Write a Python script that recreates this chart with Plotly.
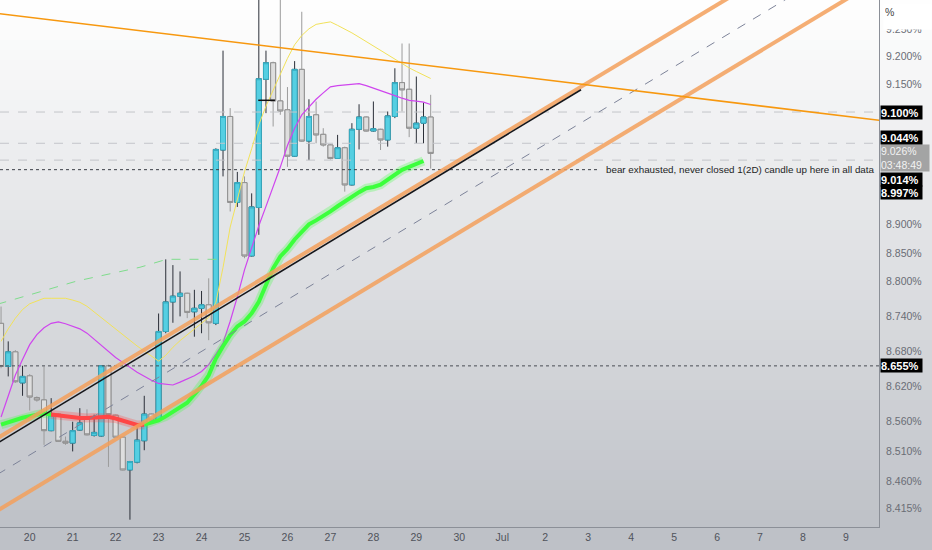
import math
import pandas as pd
import plotly.graph_objects as go

# ---------------- data ----------------
candle_start = "2023-06-19 08:00"   # 4h candles
opens  = [8.728, 8.654, 8.679, 8.626, 8.638, 8.601, 8.597, 8.545, 8.573, 8.527,
          8.524, 8.546, 8.564, 8.537, 8.536, 8.655, 8.571, 8.534, 8.479, 8.492,
          8.528, 8.573, 8.563, 8.714, 8.765, 8.775, 8.780, 8.748, 8.754, 8.760,
          8.728, 9.032, 9.092, 8.939, 8.974, 8.845, 8.930, 9.159, 9.189, 9.120,
          9.104, 9.021, 9.177, 9.048, 9.095, 9.060, 9.041, 9.017, 9.036, 8.970,
          9.069, 9.091, 9.066, 9.069, 9.050, 9.092, 9.153, 9.141, 9.071, 9.080,
          9.091]
highs  = [8.757, 8.697, 8.682, 8.655, 8.641, 8.603, 8.654, 8.600, 8.574, 8.535,
          8.560, 8.583, 8.581, 8.572, 8.656, 8.657, 8.572, 8.535, 8.494, 8.552,
          8.604, 8.574, 8.745, 8.839, 8.829, 8.818, 8.781, 8.786, 8.784, 8.806,
          9.035, 9.211, 9.107, 8.993, 8.985, 8.955, 9.320, 9.211, 9.191, 9.320,
          9.145, 9.192, 9.282, 9.123, 9.119, 9.071, 9.042, 9.059, 9.038, 9.080,
          9.114, 9.092, 9.119, 9.070, 9.101, 9.179, 9.224, 9.224, 9.164, 9.117,
          9.131]
lows   = [8.651, 8.637, 8.626, 8.604, 8.579, 8.594, 8.521, 8.544, 8.526, 8.521,
          8.510, 8.545, 8.537, 8.535, 8.535, 8.484, 8.533, 8.478, 8.396, 8.490,
          8.512, 8.562, 8.562, 8.711, 8.729, 8.740, 8.737, 8.705, 8.711, 8.699,
          8.725, 8.985, 8.923, 8.931, 8.841, 8.844, 8.882, 9.098, 9.074, 9.095,
          9.002, 9.020, 9.047, 9.014, 9.044, 9.038, 9.015, 9.016, 8.958, 8.969,
          9.033, 9.065, 9.065, 9.032, 9.038, 9.089, 9.101, 9.055, 9.044, 9.044,
          8.999]
closes = [8.654, 8.679, 8.628, 8.637, 8.602, 8.597, 8.545, 8.571, 8.527, 8.524,
          8.545, 8.558, 8.538, 8.542, 8.655, 8.572, 8.534, 8.479, 8.493, 8.529,
          8.573, 8.563, 8.714, 8.765, 8.775, 8.780, 8.747, 8.754, 8.760, 8.729,
          9.033, 9.092, 8.939, 8.974, 8.845, 8.931, 9.160, 9.189, 9.120, 9.102,
          9.021, 9.177, 9.048, 9.092, 9.059, 9.041, 9.017, 9.036, 8.970, 9.069,
          9.091, 9.066, 9.070, 9.050, 9.093, 9.153, 9.140, 9.071, 9.080, 9.091,
          9.026]

# glowing moving average (one value per candle, last candle excluded)
ma_glow = [8.5551, 8.5591, 8.5633, 8.5667, 8.5694, 8.5721, 8.5742, 8.5721, 8.5704, 8.5691,
           8.5677, 8.5665, 8.5662, 8.5670, 8.5677, 8.5684, 8.5655, 8.5618, 8.5581, 8.5546,
           8.5551, 8.5586, 8.5623, 8.5691, 8.5767, 8.5843, 8.5923, 8.6064, 8.6207, 8.6389,
           8.6675, 8.6887, 8.7075, 8.7228, 8.7312, 8.7452, 8.7653, 8.7944, 8.8234, 8.8442,
           8.8571, 8.8738, 8.8878, 8.9003, 8.9073, 8.9145, 8.9232, 8.9322, 8.9411, 8.9491,
           8.9571, 8.9641, 8.9663, 8.9705, 8.9796, 8.9891, 8.9966, 9.0018, 9.0078, 9.0124]
ma_red_from, ma_red_to = 7, 20      # falling stretch drawn in red

band_yellow = [8.6970, 8.7185, 8.7369, 8.7519, 8.7618, 8.7668, 8.7713, 8.7713, 8.7713, 8.7713,
               8.7682, 8.7644, 8.7575, 8.7476, 8.7378, 8.7278, 8.7180, 8.7081, 8.6983, 8.6891,
               8.6805, 8.6719, 8.6632, 8.6731, 8.6868, 8.6983, 8.7087, 8.7191, 8.7285, 8.7383,
               8.7642, 8.8248, 8.8954, 8.9452, 8.9932, 9.0343, 9.0773, 9.1105, 9.1386, 9.1661,
               9.1969, 9.2217, 9.2386, 9.2508, 9.2589, 9.2613, 9.2635, 9.2571, 9.2508, 9.2434,
               9.2355, 9.2275, 9.2195, 9.2116, 9.2029, 9.1942, 9.1862, 9.1797, 9.1731, 9.1668,
               9.1605]
ma_magenta = [8.5681, 8.6049, 8.6393, 8.6658, 8.6913, 8.7085, 8.7205, 8.7281, 8.7305, 8.7274,
              8.7231, 8.7185, 8.7111, 8.7004, 8.6896, 8.6788, 8.6695, 8.6610, 8.6524, 8.6442,
              8.6374, 8.6304, 8.6250, 8.6236, 8.6224, 8.6272, 8.6326, 8.6381, 8.6454, 8.6572,
              8.6752, 8.6942, 8.7316, 8.7737, 8.8207, 8.8591, 8.8978, 8.9320, 8.9656, 9.0016,
              9.0401, 9.0708, 9.0949, 9.1096, 9.1229, 9.1345, 9.1453, 9.1475, 9.1487, 9.1503,
              9.1511, 9.1475, 9.1433, 9.1393, 9.1345, 9.1296, 9.1249, 9.1211, 9.1195, 9.1179,
              9.1136]

# drawings
down_line_t = ["2023-06-19 06:00", "2023-07-10 00:00"]
down_line_v = [9.2790, 9.0830]
chan_upper_t = ["2023-06-19 06:00", "2023-07-07 00:00"]
chan_upper_v = [8.5323, 9.3423]
chan_lower_t = ["2023-06-19 06:00", "2023-07-10 00:00"]
chan_lower_v = [8.4111, 9.3523]
chan_mid_t = ["2023-06-19 06:00", "2023-07-08 00:00"]
chan_mid_v = [8.4715, 9.3237]
black_line_t = ["2023-06-19 06:00", "2023-07-02 20:00"]
black_line_v = [8.5239, 9.1402]
green_dash_t = ["2023-06-19 06:00", "2023-06-21 02:24", "2023-06-22 13:36",
                "2023-06-23 04:30", "2023-06-24 08:30"]
green_dash_v = [8.7610, 8.8013, 8.8252, 8.8391, 8.8391]
mark_t = ["2023-06-25 07:40", "2023-06-25 17:00"]
mark_v = [9.1211, 9.1211]

levels_v = [9.100, 9.044, 9.014]           # dashed horizontal rays
level_dotted_v = 8.997                      # dotted line with note
level_dotted_end = "2023-07-03 06:00"
level_low_v = 8.655                         # dotted line lower
note_text = "bear exhausted, never closed 1(2D) candle up here in all data"
note_t = "2023-07-03 09:00"

last_price = 9.026
countdown = "03:48:49"

x_range = ["2023-06-19 07:24:30", "2023-07-09 18:28:00"]
x_tick_dates = ["2023-06-%02d" % d for d in range(20, 31)] + ["2023-07-%02d" % d for d in range(1, 10)]
x_tick_text = [str(d) for d in range(20, 31)] + ["Jul"] + [str(d) for d in range(2, 10)]

y_tick_vals = [9.25, 9.2, 9.15, 8.9, 8.85, 8.8, 8.74, 8.68, 8.62, 8.56, 8.51, 8.46, 8.415]
y_range_v = [8.3839, 9.3036]

# ---------------- figure ----------------
W, H = 932, 550
ML, MR, MT, MB = 0, 53, 0, 23
PH = H - MT - MB
FONT = "Liberation Sans, Arial, sans-serif"

times = pd.date_range(candle_start, periods=len(opens), freq="4h")
fig = go.Figure()

# candles: wicks first, then bodies on top
fig.add_trace(go.Candlestick(
    x=times, open=opens, high=highs, low=lows, close=closes,
    increasing=dict(line=dict(color="#2b2f38", width=1), fillcolor="#52cde0"),
    decreasing=dict(line=dict(color="#9b9b9b", width=1), fillcolor="#dddddd"),
    whiskerwidth=0, hoverinfo="skip", showlegend=False))
body_hi = [max(o, c) for o, c in zip(opens, closes)]
body_lo = [min(o, c) for o, c in zip(opens, closes)]
fig.add_trace(go.Candlestick(
    x=times, open=opens, high=body_hi, low=body_lo, close=closes,
    increasing=dict(line=dict(color="#36aec4", width=1), fillcolor="#55cfe2"),
    decreasing=dict(line=dict(color="#8f8f8f", width=1), fillcolor="#dedede"),
    whiskerwidth=0, hoverinfo="skip", showlegend=False))

def line(x, y, color, width, dash="solid"):
    fig.add_trace(go.Scatter(x=x, y=y, mode="lines", hoverinfo="skip", showlegend=False,
                             line=dict(color=color, width=width, dash=dash)))

# horizontal levels
for v in levels_v:
    line(x_range, [v, v], "#c3c5ca", 1, "dash")
line([x_range[0], level_dotted_end], [level_dotted_v, level_dotted_v], "#3c3f47", 1, "dot")
line(x_range, [level_low_v, level_low_v], "#4a4d55", 1, "dot")

# indicator lines
line(times, band_yellow, "#f2e25a", 1)
line(times, ma_magenta, "#cf45ee", 1.2)
line(green_dash_t, green_dash_v, "#7fdc8c", 1, "dash")

ma_t = list(times[:len(ma_glow)])
segs = [(0, ma_red_from + 1, "g"), (ma_red_from, ma_red_to + 1, "r"), (ma_red_to, len(ma_glow), "g")]
for a, b, c in segs:
    glow = "rgba(60,255,60,0.28)" if c == "g" else "rgba(255,70,70,0.28)"
    core = "#3cff3c" if c == "g" else "#ff4646"
    line(ma_t[a:b], ma_glow[a:b], glow, 9)
    line(ma_t[a:b], ma_glow[a:b], core, 4)

# channel drawings
line(chan_upper_t, chan_upper_v, "rgba(243,160,92,0.85)", 4)
line(chan_lower_t, chan_lower_v, "rgba(243,160,92,0.85)", 4)
line(chan_mid_t, chan_mid_v, "#7d8399", 1, "dash")
line(black_line_t, black_line_v, "#15161a", 1.6)
line(down_line_t, down_line_v, "#f7980f", 1.6)
line(mark_t, mark_v, "#111111", 1.5)

# background gradient
shapes = []
N = 55
for i in range(N):
    p0, p1 = i * H / N, (i + 1) * H / N
    t = min(((p0 + p1) / 2) / PH, 1.0)
    r = round(255 - 65 * t); g = round(255 - 62 * t); b = round(255 - 56 * t)
    shapes.append(dict(type="rect", xref="paper", yref="paper", x0=-0.01, x1=1.08,
                       y0=1 - p1 / PH, y1=1 - p0 / PH, fillcolor=f"rgb({r},{g},{b})",
                       line=dict(width=0), layer="below"))

annotations = []
def price_label(v, text, yshift=0, bg="#000000", fc="#ffffff", h=13, w=41, size=11):
    annotations.append(dict(xref="paper", x=1, xanchor="left", xshift=1,
                            yref="y", y=math.log10(v), yanchor="middle", yshift=yshift,
                            text=text, showarrow=False, bgcolor=bg, width=w, height=h,
                            align="left", borderpad=0,
                            font=dict(family=FONT, size=size, color=fc)))

price_label(last_price, f"{last_price:.3f}%<br>{countdown}", yshift=-5, bg="rgba(150,150,150,0.85)",
            fc="#f2f2f2", h=26, w=48, size=10.5)
price_label(9.100, "<b>9.100%</b>")
price_label(9.044, "<b>9.044%</b>", yshift=6)
price_label(9.014, "<b>9.014%</b>", yshift=-19)
price_label(8.997, "<b>8.997%</b>", yshift=-22.5)
price_label(8.655, "<b>8.655%</b>")

annotations.append(dict(xref="x", x=note_t, xanchor="left", yref="y", y=math.log10(level_dotted_v),
                        yanchor="middle", text=note_text, showarrow=False,
                        font=dict(family=FONT, size=9.8, color="#1c1e24")))
annotations.append(dict(xref="paper", x=1, xanchor="left", xshift=4, yref="paper",
                        y=1 - 4 / PH, yanchor="top", text="%", showarrow=False, bgcolor="#ffffff",
                        width=45, height=22, align="left", valign="top",
                        font=dict(family=FONT, size=10.5, color="#444")))

fig.update_layout(
    width=W, height=H, margin=dict(l=ML, r=MR, t=MT, b=MB),
    paper_bgcolor="#ffffff", plot_bgcolor="rgba(0,0,0,0)",
    boxgap=0.2, boxgroupgap=0.125,
    shapes=shapes, annotations=annotations, showlegend=False,
    xaxis=dict(type="date", range=x_range, rangeslider=dict(visible=False),
               tickvals=x_tick_dates, ticktext=x_tick_text, showgrid=False, zeroline=False,
               ticks="", showline=True, linecolor="#8b8f97", linewidth=1,
               tickfont=dict(family=FONT, size=10.5, color="#50535b")),
    yaxis=dict(type="log", side="right", range=[math.log10(y_range_v[0]), math.log10(y_range_v[1])],
               tickvals=y_tick_vals, ticktext=[f"{v:.3f}%" for v in y_tick_vals],
               showgrid=False, zeroline=False, ticks="", showline=True, linecolor="#8b8f97",
               linewidth=1, ticklabelstandoff=4,
               tickfont=dict(family=FONT, size=10.5, color="#6a6d75")),
)
fig.write_html("out.html", config={"displayModeBar": False},
               post_script="document.body.style.margin='0px';")
